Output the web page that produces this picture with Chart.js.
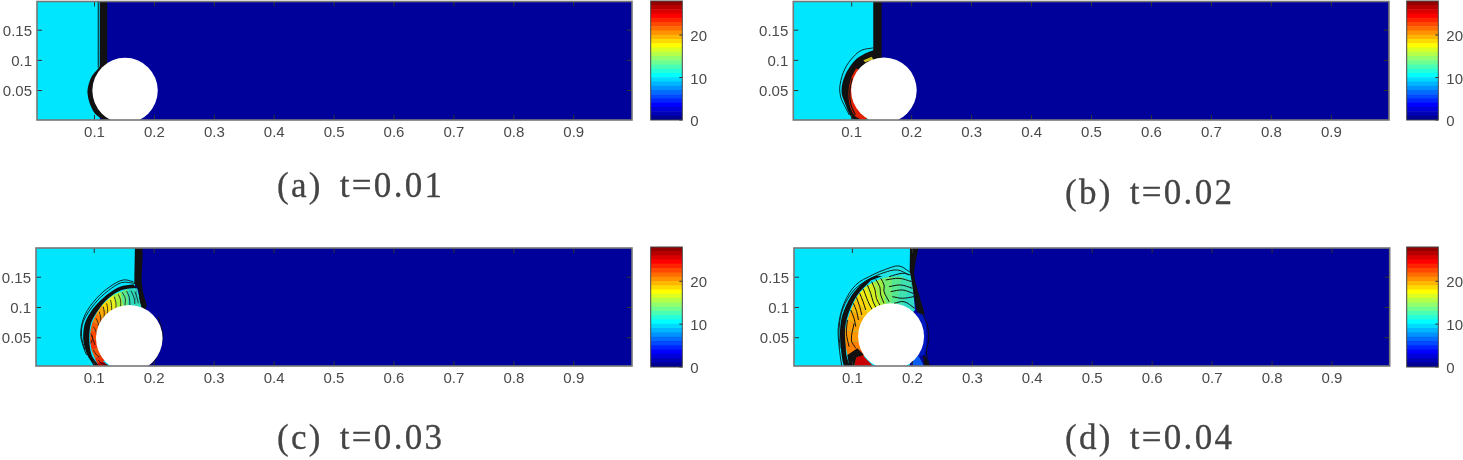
<!DOCTYPE html>
<html>
<head>
<meta charset="utf-8">
<title>Shock over a cylinder</title>
<script src="https://cdn.jsdelivr.net/npm/chart.js@4/dist/chart.umd.min.js"></script>
<style>
  html, body { margin: 0; background: #fff; width: 1463px; height: 460px; overflow: hidden; }
  canvas { position: absolute; filter: blur(0.45px); }
  .cap { position: absolute; font-family: "Liberation Serif", serif; font-size: 35px; color: #444;
         letter-spacing: 2.3px; word-spacing: 6px; white-space: nowrap; line-height: 40px; filter: blur(0.7px);
         -webkit-text-stroke: 0.3px #444; }
</style>
</head>
<body>
<canvas id="pa" width="636" height="145" style="left:0;top:0"></canvas>
<canvas id="ba" width="70" height="132" style="left:650px;top:0"></canvas>
<canvas id="pb" width="636" height="145" style="left:756px;top:0"></canvas>
<canvas id="bb" width="70" height="132" style="left:1406px;top:0"></canvas>
<canvas id="pc" width="636" height="145" style="left:0;top:246px"></canvas>
<canvas id="bc" width="70" height="132" style="left:650px;top:246px"></canvas>
<canvas id="pd" width="636" height="145" style="left:756px;top:246px"></canvas>
<canvas id="bd" width="70" height="132" style="left:1406px;top:246px"></canvas>
<div class="cap" style="left:277px;top:166px">(a) t=0.01</div>
<div class="cap" style="left:1065px;top:173px">(b) t=0.02</div>
<div class="cap" style="left:277px;top:418px">(c) t=0.03</div>
<div class="cap" style="left:1065px;top:418px">(d) t=0.04</div>
<script>
// axis ticks
const xTicks = [0.1, 0.2, 0.3, 0.4, 0.5, 0.6, 0.7, 0.8, 0.9];
const yTicks = [0.05, 0.1, 0.15];
const barTicks = [0, 10, 20];

// colorbar levels and colours (jet)
const barLevels = [1,1,1,1,1,1,1,1,1,1,1,1,1,1,1,1,1,1,1,1,1,1,1,1,1,1,1,1];
const jet = ["#000092","#0000b6","#0000da","#0000ff","#0024ff","#0049ff","#006dff","#0092ff","#00b6ff","#00daff",
  "#00ffff","#24ffda","#49ffb6","#6dff92","#92ff6d","#b6ff49","#daff24","#ffff00","#ffda00","#ffb600",
  "#ff9200","#ff6d00","#ff4900","#ff2400","#ff0000","#da0000","#b60000","#920000"];

// whole domain
const domain = [[0,0],[1,0],[1,0.2],[0,0.2]];

// (a) t=0.01
const aCyan = [[0,0],[0.1089,0],[0.1089,0.2],[0,0.2]];
const aBand = [[0.1089,0.2],[0.1212,0.2],[0.1212,0.085],[0.1089,0.085]];
const aFront = [[0.1062,0.2],[0.1062,0.088]];
const aCrescent = [[0.1061,0.0865],[0.095,0.0727],[0.0883,0.0507],[0.0911,0.0314],[0.1006,0.0121],[0.1156,0.0022],[0.13,0.002],[0.13,0.085],[0.1085,0.09]];
const aCylinder = [[0.151,0.05]];

// (b) t=0.02
const bCyan = [[0,0],[0.137,0],[0.137,0.2],[0,0.2]];
const bBand = [[0.136,0.2],[0.15,0.2],[0.15,0.105],[0.153,0.095],[0.13,0.09],[0.136,0.118]];
const bArc = [[0.1361,0.1168],[0.1222,0.1113],[0.1056,0.1003],[0.0917,0.081],[0.0844,0.0617],[0.0833,0.0452],[0.0889,0.0287],[0.0972,0.0094],[0.1028,0.0022],[0.125,0.002],[0.125,0.09],[0.14,0.1]];
const bRed = [[0.1072,0.0865],[0.0989,0.07],[0.095,0.0507],[0.0961,0.0287],[0.1039,0.0094],[0.115,0.0022],[0.125,0.002],[0.125,0.08]];
const bRedLine = [[0.1009,0.07],[0.097,0.0507],[0.0981,0.0287],[0.1059,0.0094]];
const bYellow = [[0.1195,0.1003],[0.1334,0.1058],[0.1361,0.1014],[0.1222,0.097]];
const bOutline = [[0.1361,0.1207],[0.1167,0.1168],[0.1028,0.1058],[0.0889,0.0865],[0.0805,0.059],[0.0816,0.0397],[0.0889,0.0231],[0.0961,0.0094]];
const bCylinder = [[0.1537,0.0504]];

// (c) t=0.03
const cCyan = [[0,0],[0.168,0],[0.168,0.2],[0,0.2]];
const cBand = [[0.1678,0.2],[0.18,0.2],[0.179,0.1455],[0.1817,0.1234],[0.1873,0.1041],[0.1845,0.0959],[0.1789,0.1014],[0.1762,0.1097],[0.1734,0.1289],[0.1667,0.14]];
const cArc = [[0.1651,0.1383],[0.1428,0.1344],[0.1206,0.1207],[0.0983,0.0986],[0.0844,0.0738],[0.0817,0.0463],[0.0883,0.0215],[0.0983,0.005],[0.0983,0.0022],[0.1067,0.0033],[0.0956,0.0215],[0.0917,0.0463],[0.0944,0.0738],[0.1067,0.0959],[0.1234,0.1152],[0.1456,0.1289],[0.1706,0.1328]];
const cFan = [[0.1789,0.1014],[0.1717,0.1317],[0.1556,0.1311],[0.1439,0.1262],[0.1317,0.1207],[0.1217,0.1124],[0.1122,0.103],[0.1039,0.0904],[0.0972,0.0766],[0.0939,0.0628],[0.0928,0.0463],[0.0956,0.0298],[0.1011,0.016],[0.1067,0.0033]];
const cFanColors = ["#2fd8b8","#2fd8b8","#5fe88a","#a8f040","#e8f020","#ffd800","#ffa800","#ff7a00","#ff5a00","#ff4a00","#f83000","#ff5000","#e83000"];
const cRed = [[0.1039,0.0033],[0.1067,0.0088],[0.116,0.0105],[0.1234,0.0033]];
const cOutlines = [
  [[0.1651,0.1427],[0.1484,0.1455],[0.1261,0.1344],[0.1039,0.1152],[0.0844,0.0876],[0.0772,0.0573],[0.0817,0.0353],[0.0872,0.0215]],
  [[0.1678,0.14],[0.1456,0.1411],[0.1234,0.1278],[0.1011,0.1069],[0.0817,0.0766],[0.0789,0.0518],[0.0844,0.0298]],
  [[0.2068,0.0849],[0.214,0.0573],[0.2123,0.0408],[0.2029,0.016],[0.1929,0.0033]]
];
const cContours = [
  [[0.1678,0.1262],[0.1717,0.1152],[0.1734,0.1069]],
  [[0.1612,0.1278],[0.1662,0.1168],[0.1678,0.1058]],
  [[0.1539,0.1273],[0.1584,0.1168],[0.1595,0.1041]],
  [[0.1467,0.1251],[0.1517,0.1152],[0.1512,0.103]],
  [[0.14,0.1218],[0.1439,0.1124],[0.1439,0.1014]],
  [[0.1334,0.1179],[0.1361,0.108],[0.1361,0.0975]],
  [[0.1272,0.1124],[0.1289,0.103],[0.1289,0.0931]],
  [[0.1206,0.1069],[0.1222,0.0986],[0.1222,0.0876]],
  [[0.115,0.1014],[0.1167,0.0915],[0.1161,0.0821]],
  [[0.1083,0.0931],[0.1106,0.0838],[0.1106,0.0738]],
  [[0.1028,0.0821],[0.1067,0.0738],[0.1067,0.0639]],
  [[0.0983,0.0683],[0.1022,0.0628],[0.1039,0.0545]],
  [[0.0956,0.0545],[0.0983,0.0463],[0.1011,0.038]],
  [[0.0983,0.0298],[0.1039,0.0215],[0.1083,0.0187]],
  [[0.1067,0.0132],[0.1122,0.0077],[0.1234,0.0044]],
  [[0.0944,0.0573],[0.0972,0.049],[0.0944,0.0408]]
];
const cCylinder = [[0.1584,0.049]];

// (d) t=0.04
const dCyan = [[0,0],[0.196,0],[0.196,0.2],[0,0.2]];
const dBand = [[0.1962,0.2],[0.2095,0.2],[0.2056,0.1758],[0.2029,0.1565],[0.2056,0.14],[0.2112,0.1207],[0.2179,0.0986],[0.2201,0.0876],[0.2084,0.0931],[0.2029,0.1179],[0.199,0.1427],[0.1956,0.162]];
const dArc = [[0.15,0.1521],[0.1389,0.1521],[0.1195,0.1427],[0.0972,0.1179],[0.0833,0.0876],[0.0794,0.0628],[0.0805,0.0353],[0.0861,0.0033],[0.0944,0.0033],[0.09,0.0215],[0.0889,0.0353],[0.0878,0.0656],[0.0944,0.0931],[0.1083,0.1207],[0.1306,0.1444]];
const dFan = [[0.2045,0.0959],[0.2001,0.1427],[0.1834,0.1521],[0.1667,0.151],[0.15,0.1482],[0.1361,0.1427],[0.1222,0.1344],[0.1122,0.1245],[0.1044,0.1124],[0.0972,0.0959],[0.0917,0.0793],[0.0878,0.0628],[0.0878,0.0408],[0.0917,0.0215],[0.0972,0.0033]];
const dFanColors = ["#30dcc8","#40e0b0","#55e690","#70ea70","#a0f040","#d0f020","#f0ec10","#ffd800","#ffc000","#ffa800","#ffa000","#ff9800","#ff8000","#ff5000"];
const dTeal = [[0.1973,0.1565],[0.1778,0.1675],[0.1556,0.162],[0.1345,0.1537],[0.1389,0.1521],[0.15,0.1482],[0.1667,0.151],[0.1834,0.1521],[0.2001,0.1427]];
const dRed = [[0.1028,0.0033],[0.1067,0.0176],[0.1167,0.0215],[0.1345,0.0033]];
const dCurl = [[0.0917,0.0215],[0.1083,0.0325],[0.1139,0.027],[0.1195,0.0215],[0.1067,0.0176],[0.1028,0.0033],[0.0944,0.0033]];
const dRightBlue = [[0.2179,0.0959],[0.2234,0.0683],[0.2234,0.0353],[0.2195,0.0215],[0.2112,0.0187],[0.19,0.03],[0.19,0.08]];
const dBluePatch = [[0.2029,0.0215],[0.2112,0.0187],[0.2195,0.0033],[0.2001,0.0033]];
const dRightDark = [[0.2179,0.0215],[0.2223,0.0187],[0.229,0.0033],[0.2195,0.0033]];
const dOutlines = [
  [[0.1973,0.1576],[0.1778,0.1686],[0.1556,0.1631],[0.1334,0.1537],[0.1056,0.1372],[0.0861,0.1069],[0.0766,0.0683],[0.0778,0.0353],[0.0822,0.0033]],
  [[0.1945,0.1537],[0.1751,0.162],[0.1528,0.1576],[0.1278,0.1466],[0.1028,0.1289],[0.0844,0.0986],[0.0778,0.0656],[0.0794,0.0325]],
  [[0.2179,0.0876],[0.2251,0.0711],[0.2273,0.0463],[0.2234,0.027],[0.2279,0.005]]
];
const dContours = [
  [[0.1612,0.151],[0.1834,0.1565],[0.1973,0.1537]],
  [[0.1556,0.1455],[0.1778,0.1482],[0.199,0.1427]],
  [[0.1612,0.1344],[0.1806,0.1372],[0.2001,0.1317]],
  [[0.1639,0.1262],[0.1834,0.1289],[0.2012,0.1234]],
  [[0.1667,0.1179],[0.1834,0.1152],[0.2029,0.1179]],
  [[0.1695,0.1069],[0.1862,0.1096],[0.204,0.0986]],
  [[0.1473,0.1482],[0.1528,0.1372],[0.1528,0.1262],[0.1612,0.1096]],
  [[0.1389,0.1466],[0.1456,0.1344],[0.1473,0.1207],[0.1528,0.1069]],
  [[0.1322,0.1427],[0.1378,0.1289],[0.14,0.1152],[0.1473,0.1014]],
  [[0.125,0.1372],[0.1306,0.1234],[0.1345,0.1096],[0.14,0.0986]],
  [[0.1183,0.1306],[0.1239,0.1152],[0.1289,0.1041],[0.1334,0.0959]],
  [[0.1122,0.1234],[0.1178,0.1096],[0.1222,0.0959]],
  [[0.1067,0.1168],[0.1122,0.1014],[0.1156,0.0876]],
  [[0.1017,0.1069],[0.1072,0.0931],[0.11,0.0793]],
  [[0.0972,0.0959],[0.1028,0.0821],[0.1056,0.0683]],
  [[0.1028,0.0738],[0.0983,0.0463],[0.1056,0.0325]],
  [[0.0917,0.0793],[0.09,0.0573],[0.0944,0.0353]]
];
const dCylinder = [[0.1645,0.0523]];

// chart helpers
const NAVY = "#00009a", CYAN = "#00e6ff", INK = "#111";
const textColor = "#4a4a4a";

function poly(points, color, tension) {
  return { data: points, showLine: true, fill: "shape", backgroundColor: color, borderColor: color, borderWidth: 0, pointRadius: 0, tension: tension || 0, clip: 0 };
}
function line(points, width) {
  return { data: points, showLine: true, fill: false, borderColor: INK, borderWidth: width || 1, pointRadius: 0, tension: 0.35, clip: 0 };
}
function cylinder(center, radius) {
  return { data: center, showLine: false, pointRadius: radius, pointBackgroundColor: "#fff", pointBorderWidth: 0, clip: 0 };
}
function fan(points, colors, center) {
  return colors.map((c, i) => poly([points[i], points[i + 1], center[0]], c));
}
function noPadding(s) {
  s.paddingLeft = s.paddingRight = s.paddingTop = s.paddingBottom = 0;
}

// MATLAB style box with ticks pointing inwards
const boxPlugin = {
  id: "box",
  afterDraw(chart) {
    const { ctx, chartArea: a, scales: { x, y } } = chart;
    ctx.save();
    ctx.strokeStyle = "#333";
    ctx.lineWidth = 1;
    ctx.beginPath();
    if (x.options.display) {
      xTicks.forEach(v => {
        const px = x.getPixelForValue(v);
        ctx.moveTo(px, a.bottom); ctx.lineTo(px, a.bottom - 5);
        ctx.moveTo(px, a.top); ctx.lineTo(px, a.top + 5);
      });
    }
    const ys = y.ticks.map(t => y.getPixelForValue(t.value));
    ys.forEach(py => {
      if (x.options.display) {
        ctx.moveTo(a.left, py); ctx.lineTo(a.left + 5, py);
        ctx.moveTo(a.right, py); ctx.lineTo(a.right - 5, py);
      } else {
        ctx.moveTo(a.right, py); ctx.lineTo(a.right - 3, py);
      }
    });
    ctx.stroke();
    ctx.strokeStyle = x.options.display ? "#777" : "#444";
    ctx.lineWidth = x.options.display ? 1.6 : 1;
    ctx.strokeRect(a.left, a.top, a.right - a.left, a.bottom - a.top);
    ctx.restore();
  }
};

function panel(id, layers, range, top, left) {
  const n = layers.length;
  layers.forEach((d, i) => { d.order = n - i; });
  new Chart(document.getElementById(id), {
    type: "scatter",
    data: { datasets: layers },
    plugins: [boxPlugin],
    options: {
      responsive: false, animation: false, events: [],
      layout: { autoPadding: false, padding: { top: top, right: 636 - left - range.w, left: 0, bottom: 0 } },
      plugins: { legend: { display: false }, tooltip: { enabled: false } },
      scales: {
        x: {
          type: "linear", min: range.x[0], max: range.x[1],
          grid: { display: false, drawTicks: false }, border: { display: false },
          afterBuildTicks: s => { s.ticks = xTicks.map(v => ({ value: v })); },
          afterFit: s => { s.height = 25; noPadding(s); },
          ticks: { autoSkip: false, maxRotation: 0, padding: 4, color: textColor, font: { family: "Liberation Sans", size: 15 }, callback: v => String(v) }
        },
        y: {
          type: "linear", min: range.y[0], max: range.y[1],
          grid: { display: false, drawTicks: false }, border: { display: false },
          afterBuildTicks: s => { s.ticks = yTicks.map(v => ({ value: v })); },
          afterFit: s => { s.width = left; noPadding(s); },
          ticks: { autoSkip: false, padding: 5, labelOffset: 1.5, color: textColor, font: { family: "Liberation Sans", size: 15 }, callback: v => String(v) }
        }
      }
    }
  });
}

function colorbar(id, height) {
  new Chart(document.getElementById(id), {
    type: "bar",
    data: {
      labels: [""],
      datasets: barLevels.map((v, i) => ({ data: [v], backgroundColor: jet[i], borderWidth: 0, barPercentage: 1, categoryPercentage: 1 }))
    },
    plugins: [boxPlugin],
    options: {
      responsive: false, animation: false, events: [],
      layout: { autoPadding: false, padding: { top: 1, left: 0.7, right: 0, bottom: 132 - height } },
      plugins: { legend: { display: false }, tooltip: { enabled: false } },
      scales: {
        x: { display: false, stacked: true },
        y: {
          position: "right", stacked: true, min: 0, max: 28,
          grid: { display: false, drawTicks: false }, border: { display: false },
          afterBuildTicks: s => { s.ticks = barTicks.map(v => ({ value: v })); },
          afterFit: s => { s.width = 37.7; noPadding(s); },
          ticks: { padding: 8, labelOffset: 2, color: textColor, font: { family: "Liberation Sans", size: 15 }, callback: v => String(v) }
        }
      }
    }
  });
}

// panel (a)
panel("pa", [
  poly(domain, NAVY), poly(aCyan, CYAN), poly(aBand, INK), poly(aCrescent, INK, 0.3),
  line(aFront, 1), cylinder(aCylinder, 32.7)
], { x: [0.004, 0.9973], y: [0.0012, 0.1975], w: 595 }, 1.5, 37);

// panel (b)
panel("pb", [
  poly(domain, NAVY), poly(bCyan, CYAN), poly(bBand, INK), poly(bArc, INK, 0.3),
  poly(bRed, "#e02000", 0.3), poly(bYellow, "#c8c020"), line(bRedLine, 1.2), line(bOutline, 0.9), cylinder(bCylinder, 32.8)
], { x: [0.0026, 0.9962], y: [0.0012, 0.1975], w: 595.7 }, 1.5, 37.3);

// panel (c)
panel("pc", [
  poly(domain, NAVY), poly(cCyan, CYAN), ...fan(cFan, cFanColors, cCylinder), poly(cRed, "#b80000"),
  poly(cBand, INK, 0.2), poly(cArc, INK, 0.3),
  ...cOutlines.map(l => line(l, 0.9)), ...cContours.map(l => line(l, 0.8)), cylinder(cCylinder, 33.3)
], { x: [0.0028, 0.9971], y: [0.0033, 0.1983], w: 596 }, 2, 36);

// panel (d)
panel("pd", [
  poly(domain, NAVY), poly(dCyan, CYAN), poly(dTeal, "#20e4e4", 0.2), ...fan(dFan, dFanColors, dCylinder),
  poly(dRightBlue, "#0018c0"), poly(dBluePatch, "#0a5cf0"), poly(dRed, "#c80000"),
  poly(dBand, INK, 0.2), poly(dArc, INK, 0.3), poly(dCurl, INK), poly(dRightDark, INK),
  ...dOutlines.map(l => line(l, 0.9)), ...dContours.map(l => line(l, 1)), cylinder(dCylinder, 33)
], { x: [0.0026, 0.9962], y: [0.0033, 0.1983], w: 595.7 }, 2, 38);

colorbar("ba", 120);
colorbar("bb", 120);
colorbar("bc", 121);
colorbar("bd", 121);
</script>
</body>
</html>
